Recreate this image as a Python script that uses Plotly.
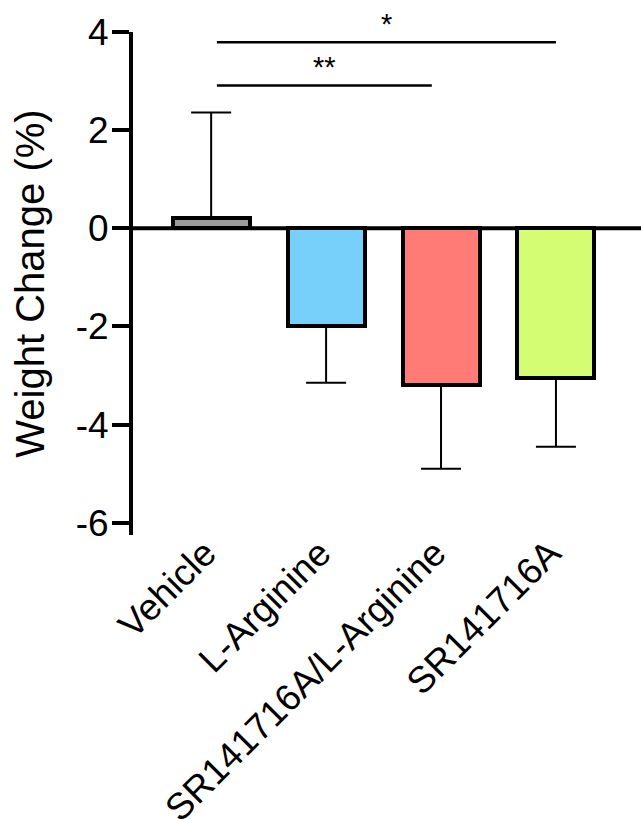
import plotly.graph_objects as go

# Group labels and measured weight change (% of baseline)
groups = ["Vehicle", "L-Arginine", "SR141716A/L-Arginine", "SR141716A"]
mean_change = [0.2, -2.0, -3.2, -3.05]
sd_up = [2.16, 0.0, 0.0, 0.0]
sd_down = [0.0, 1.15, 1.7, 1.4]
bar_colors = ["#9c9c9c", "#76d0fa", "#ff7c76", "#d4fd73"]

# Significance brackets: (from group, to group, height, label)
sig_pairs = [
    ("Vehicle", "SR141716A/L-Arginine", 2.91, "**"),
    ("Vehicle", "SR141716A", 3.79, "*"),
]

y_ticks = [4, 2, 0, -2, -4, -6]

FONT = "Arial, Liberation Sans, Helvetica, sans-serif"

fig = go.Figure()
fig.add_trace(go.Bar(
    x=groups,
    y=mean_change,
    width=0.67,
    marker=dict(color=bar_colors, line=dict(color="black", width=4)),
    error_y=dict(type="data", symmetric=False, array=sd_up, arrayminus=sd_down,
                 color="black", thickness=2, width=20),
    showlegend=False,
))

# zero baseline across the plot
fig.add_shape(type="line", xref="paper", yref="y", x0=0, x1=1, y0=0, y1=0,
              line=dict(color="black", width=4), layer="below")

idx = {g: i for i, g in enumerate(groups)}
for g0, g1, h, label in sig_pairs:
    x0 = idx[g0] + 0.05
    x1 = idx[g1] - (0.08 if g1 != "SR141716A" else 0.0)
    fig.add_shape(type="line", xref="x", yref="y", x0=x0, x1=x1, y0=h, y1=h,
                  line=dict(color="black", width=2.5))
    fig.add_annotation(x=(x0 + x1) / 2, y=h + 0.0, xref="x", yref="y",
                       text=label, showarrow=False, yanchor="bottom",
                       font=dict(family=FONT, size=29, color="black"))

fig.update_layout(
    width=641, height=819,
    margin=dict(l=133, r=0, t=32, b=284),
    paper_bgcolor="white", plot_bgcolor="white",
    font=dict(family=FONT, color="black"),
    bargap=0,
)
fig.update_xaxes(
    range=[-0.68, 3.74], showgrid=False, zeroline=False, showline=False,
    ticks="", tickangle=-45, automargin=False, ticklabelstandoff=-12,
    ticklabelshift=-6,
    tickfont=dict(family=FONT, size=37, color="black"),
)
fig.update_yaxes(
    range=[-6.25, 4], tickvals=y_ticks, ticktext=[str(v) for v in y_ticks],
    showgrid=False, zeroline=False, showline=True, linecolor="black", linewidth=4,
    ticks="outside", ticklen=17, tickwidth=3.5, tickcolor="black", automargin=False,
    ticklabelstandoff=-4,
    tickfont=dict(family=FONT, size=37, color="black"),
    title=dict(text="Weight Change (%)", font=dict(family=FONT, size=40, color="black"),
               standoff=20),
)

fig.write_html("out.html")
